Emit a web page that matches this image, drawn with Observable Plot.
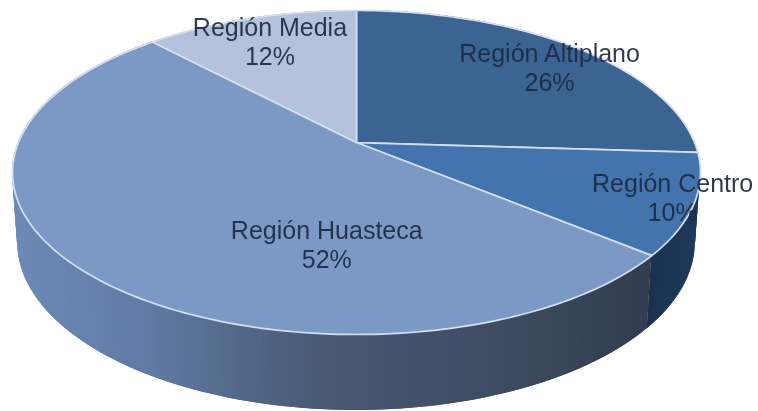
<!DOCTYPE html>
<html>
<head>
<meta charset="utf-8">
<style>
html,body{margin:0;padding:0;background:#fff;}
svg{display:block;filter:blur(0.7px);}
</style>
<script src="https://cdn.jsdelivr.net/npm/d3@7"></script>
<script src="https://cdn.jsdelivr.net/npm/@observablehq/plot@0.6"></script>
</head>
<body>
<div id="chart"></div>
<script>
const regions = ["Región Altiplano", "Región Centro", "Región Huasteca", "Región Media"];
const shares = [26, 10, 52, 12];
const topColors = ["#3b6493", "#4474ad", "#7b99c4", "#b3c2da"];
const labelRadius = [0.818, 0.938, 0.586, 0.79];
const labelTurnShift = [0.0089, -0.0028, -0.0986, 0];

// Tilt of the 3D pie, in the units of the x/y scales
const tilt = 0.185;
const baseScaleX = 0.985, baseScaleY = 1.037, baseDrop = 0.432;

const total = d3.sum(shares);
const starts = d3.cumsum([0, ...shares.slice(0, -1)]).map(v => v / total);
const ends = d3.cumsum(shares).map(v => v / total);

function project(turn, r = 1) {
  const a = 2 * Math.PI * turn;
  const c = r * Math.cos(a), s = r * Math.sin(a);
  const d = 1 + tilt * c;
  return {x: s * Math.sqrt(1 - tilt * tilt) / d, y: (c + tilt) / d};
}
const base = p => ({x: p.x * baseScaleX, y: p.y * baseScaleY - baseDrop});

// top surface
const topPts = regions.flatMap((region, i) => {
  const n = Math.ceil(shares[i] * 3);
  const arc = d3.range(n + 1).map(k => project(starts[i] + (ends[i] - starts[i]) * k / n));
  const apex = project(0, 0);
  return [apex, ...arc, apex].map(p => ({...p, region, color: topColors[i]}));
});

// side wall strips: each one overlaps the next, so no seams show
const huastecaShade = d3.scaleLinear().domain([-1, -0.6, -0.13, 0.45, 0.86])
  .range(["#6d8ab7", "#5f7aa3", "#4a5a76", "#3d4b60", "#323d4e"]);
const centroShade = d3.scaleLinear().domain([0.86, 1]).range(["#1a3250", "#1f3a5a"]);
const wallShade = [() => "#1f3a5a", u => centroShade(u), u => huastecaShade(u), () => "#8fa3c4"];
const strips = regions.flatMap((region, i) => {
  const n = shares[i] * 3;
  return d3.range(n).flatMap(k => {
    const turnAt = j => starts[i] + (ends[i] - starts[i]) * Math.min(j, n) / n;
    const a = project(turnAt(k));
    const mid = project(turnAt(k + 0.5));
    const b = project(turnAt(k + 2));
    const color = wallShade[i](mid.x);
    const id = region + k;
    return [a, b].map(p => {
      const q = base(p);
      return {id, color, x1: p.x, y1: p.y, x2: q.x, y2: q.y};
    });
  });
});

// dividers on the visible front of the wall
const dividers = starts.map(t => project(t)).filter(p => p.y < 0)
  .map(p => { const q = base(p); return {x1: p.x, y1: p.y, x2: q.x, y2: q.y}; });

const labels = regions.map((region, i) => {
  const p = project((starts[i] + ends[i]) / 2 + labelTurnShift[i], labelRadius[i]);
  return {...p, text: `${region}\n${shares[i]}%`};
});

const chart = Plot.plot({
  width: 758, height: 411,
  margin: 0,
  x: {axis: null, domain: [-1, 1], range: [12, 700]},
  y: {axis: null, domain: [-1, 1], range: [334, 10]},
  marks: [
    Plot.area(strips, {x1: "x1", y1: "y1", x2: "x2", y2: "y2", z: "id", fill: d => d.color}),
    Plot.link(dividers, {x1: "x1", y1: "y1", x2: "x2", y2: "y2", stroke: "#c3d3ea", strokeWidth: 1.8}),
    Plot.line(topPts, {x: "x", y: "y", z: "region", fill: d => d.color, stroke: "#d3e0f1",
      strokeWidth: 1.7, strokeLinejoin: "round"}),
    Plot.text(labels, {x: "x", y: "y", text: "text", fontFamily: "'Liberation Sans', Arial, sans-serif",
      fontSize: 25, lineHeight: 1.14, fill: "#1c2a40", fillOpacity: 0.92})
  ]
});
document.getElementById("chart").appendChild(chart);
</script>
</body>
</html>
